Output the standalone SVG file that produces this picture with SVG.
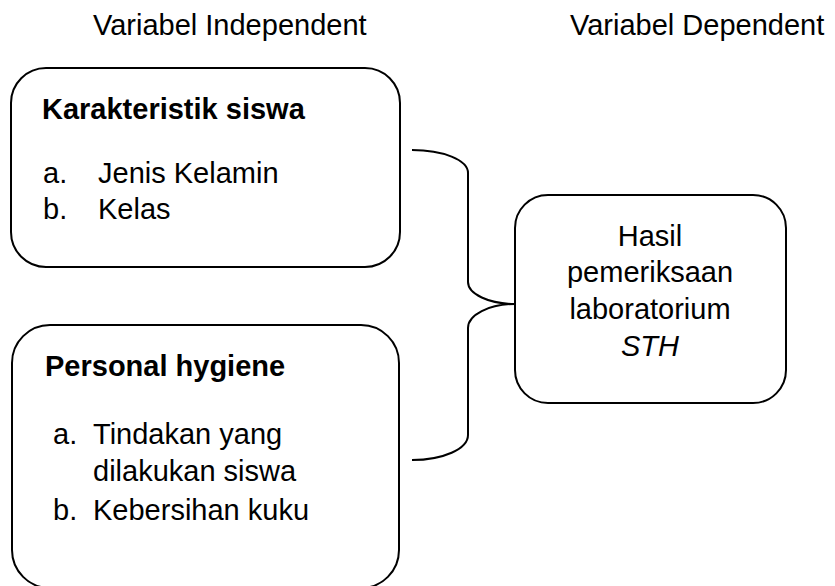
<svg xmlns="http://www.w3.org/2000/svg" width="835" height="586" viewBox="0 0 835 586">
<style>
.box{fill:#fff;stroke:#000;stroke-width:2}
.t{font-family:"Liberation Sans",Arial,sans-serif;font-size:29px;fill:#000}
.b{font-weight:bold}
.c{text-anchor:middle}
.line{fill:none;stroke:#000;stroke-width:2}
</style>
<rect width="835" height="586" fill="#fff"/>
<g id="headers">
<text class="t" x="93" y="35">Variabel Independent</text>
<text class="t" x="570" y="35">Variabel Dependent</text>
</g>
<g id="connectors">
<path class="line" d="M412,150 C443,150 468,160 468,173 L468,282 C468,294 489,304 515,304 C489,304 468,315 468,328 L468,435 C468,449 443,460 412,460"/>
</g>
<g id="node-karakteristik">
<rect class="box" x="11" y="68" width="389" height="199" rx="35" ry="35"/>
<text class="t b" x="42" y="119">Karakteristik siswa</text>
<text class="t" x="43" y="183">a.</text>
<text class="t" x="98" y="183">Jenis Kelamin</text>
<text class="t" x="43" y="219">b.</text>
<text class="t" x="98" y="219">Kelas</text>
</g>
<g id="node-personal">
<rect class="box" x="12" y="325" width="387" height="263" rx="38" ry="38"/>
<text class="t b" x="45" y="376">Personal hygiene</text>
<text class="t" x="53" y="444">a.</text>
<text class="t" x="93" y="444">Tindakan yang</text>
<text class="t" x="93" y="481">dilakukan siswa</text>
<text class="t" x="53" y="520">b.</text>
<text class="t" x="93" y="520">Kebersihan kuku</text>
</g>
<g id="node-hasil">
<rect class="box" x="515" y="195" width="271" height="208" rx="33" ry="33"/>
<text class="t c" x="650" y="246">Hasil</text>
<text class="t c" x="650" y="282">pemeriksaan</text>
<text class="t c" x="650" y="319">laboratorium</text>
<text class="t c" x="650" y="356" font-style="italic">STH</text>
</g>
</svg>
